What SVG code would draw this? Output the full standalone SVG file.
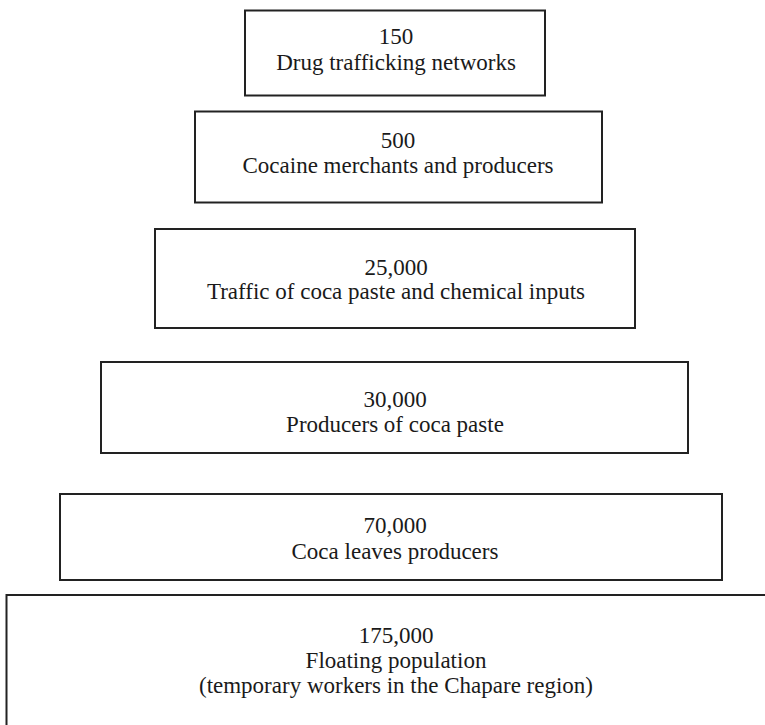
<svg xmlns="http://www.w3.org/2000/svg" width="765" height="725" viewBox="0 0 765 725">
<style>
rect.box{fill:#fff;stroke:#222;stroke-width:2}
text{font-family:"Liberation Serif","DejaVu Serif","Times New Roman",serif;font-size:23px;fill:#1a1a1a;text-anchor:middle}
</style>
<rect width="765" height="725" fill="#fff"/>
<g id="node1" font-family="Liberation Serif, DejaVu Serif, serif"><rect class="box" x="245" y="10.5" width="300" height="85"/><text x="396" y="44">150</text><text x="396" y="70">Drug trafficking networks</text></g>
<g id="node2" font-family="Liberation Serif, DejaVu Serif, serif"><rect class="box" x="195" y="111.5" width="407" height="91"/><text x="398" y="148">500</text><text x="398" y="173">Cocaine merchants and producers</text></g>
<g id="node3" font-family="Liberation Serif, DejaVu Serif, serif"><rect class="box" x="155" y="229" width="480" height="99"/><text x="396" y="275">25,000</text><text x="396" y="299">Traffic of coca paste and chemical inputs</text></g>
<g id="node4" font-family="Liberation Serif, DejaVu Serif, serif"><rect class="box" x="101" y="362" width="587" height="91"/><text x="395" y="407">30,000</text><text x="395" y="432">Producers of coca paste</text></g>
<g id="node5" font-family="Liberation Serif, DejaVu Serif, serif"><rect class="box" x="60" y="494" width="662" height="86"/><text x="395" y="533">70,000</text><text x="395" y="559">Coca leaves producers</text></g>
<g id="node6" font-family="Liberation Serif, DejaVu Serif, serif"><rect class="box" x="6.5" y="595" width="780" height="140"/><text x="396" y="643">175,000</text><text x="396" y="668">Floating population</text><text x="396" y="693">(temporary workers in the Chapare region)</text></g>
<g id="connectors"></g>
</svg>
